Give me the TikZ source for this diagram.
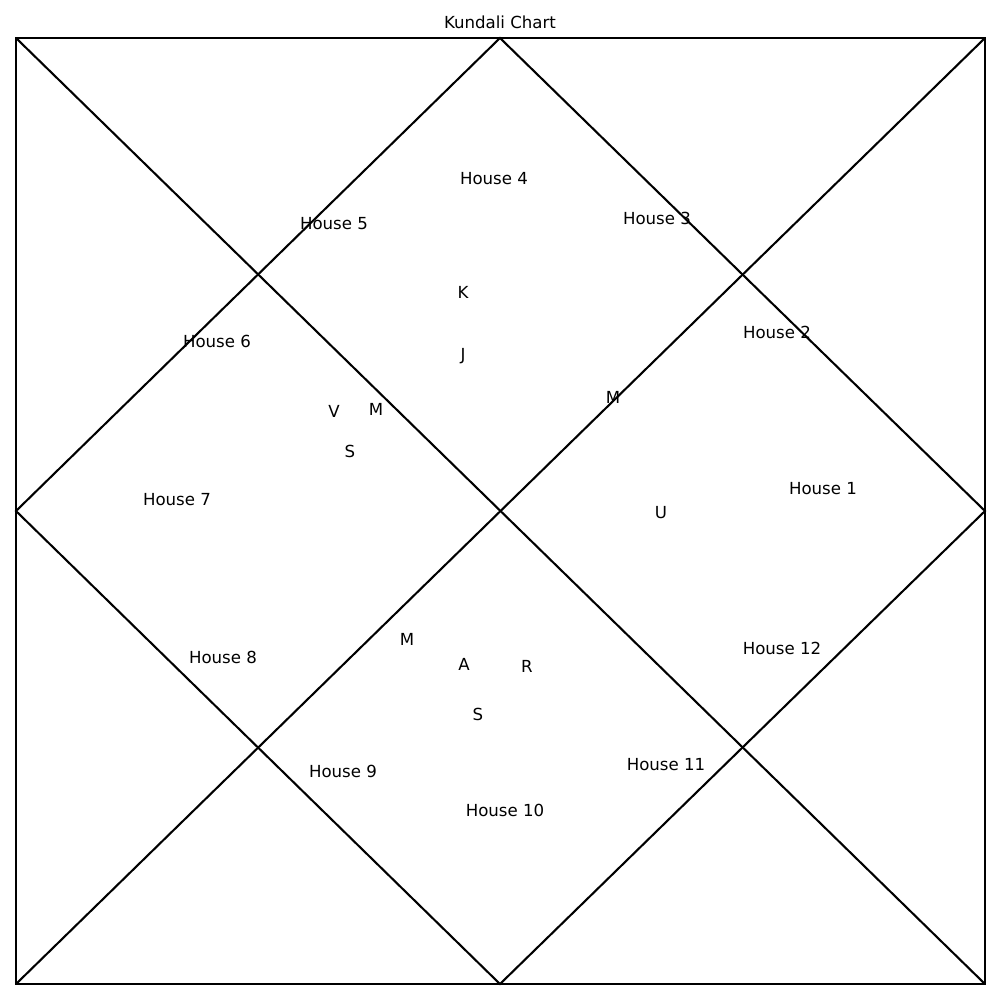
\documentclass[tikz,border=0pt]{standalone}
\usepackage{fontspec}
\setmainfont{DejaVu Sans}
\usepackage{tikz}
\usetikzlibrary{positioning, calc}
\definecolor{chartInk}{RGB}{0,0,0}

\begin{document}
\begin{tikzpicture}[x=0.254mm, y=-0.254mm,
      chartline/.style={line width=1.5pt, draw=chartInk, line join=miter},
      house/.style={inner sep=0pt, font=\fontsize{12}{14}\selectfont, text=chartInk},
      planet/.style={inner sep=0pt, font=\fontsize{12}{14}\selectfont, text=chartInk}
    ]
    \useasboundingbox (0,0) rectangle (1000,1000);
    \node[house] (title) at (500,22) {Kundali Chart};

    % corners and mid points of the chart
    \coordinate (tl) at (16,38);
    \coordinate (tr) at (985,38);
    \coordinate (br) at (985,984);
    \coordinate (bl) at (16,984);
    \coordinate (tm) at (500,38);
    \coordinate (rm) at (985,511);
    \coordinate (bm) at (500,984);
    \coordinate (lm) at (16,511);

    \draw[chartline] (tl) -- (tr) -- (br) -- (bl) -- cycle;
    \draw[chartline] (tl) -- (br);
    \draw[chartline] (tr) -- (bl);
    \draw[chartline] (tm) -- (rm) -- (bm) -- (lm) -- cycle;

    % houses
    \node[house] (h1) at (823,489) {House 1};
    \node[house] (h2) at (777,332) {House 2};
    \node[house] (h3) at (657,218) {House 3};
    \node[house] (h4) at (494,179) {House 4};
    \node[house] (h5) at (334,224) {House 5};
    \node[house] (h6) at (217,341) {House 6};
    \node[house] (h7) at (177,500) {House 7};
    \node[house] (h8) at (223,657) {House 8};
    \node[house] (h9) at (343,771) {House 9};
    \node[house] (h10) at (505,810) {House 10};
    \node[house] (h11) at (666,765) {House 11};
    \node[house] (h12) at (782,648) {House 12};

    % planets
    \node[planet] (pk) at (463,292) {K};
    \node[planet] (pj) at (463,356) {J};
    \node[planet] (pm1) at (613,397) {M};
    \node[planet] (pv) at (334,411) {V};
    \node[planet] (pm2) at (376,409) {M};
    \node[planet] (ps1) at (350,451) {S};
    \node[planet] (pu) at (661,513) {U};
    \node[planet] (pm3) at (407,639) {M};
    \node[planet] (pa) at (464,664) {A};
    \node[planet] (pr) at (527,666) {R};
    \node[planet] (ps2) at (478,714) {S};
  \end{tikzpicture}
\end{document}
